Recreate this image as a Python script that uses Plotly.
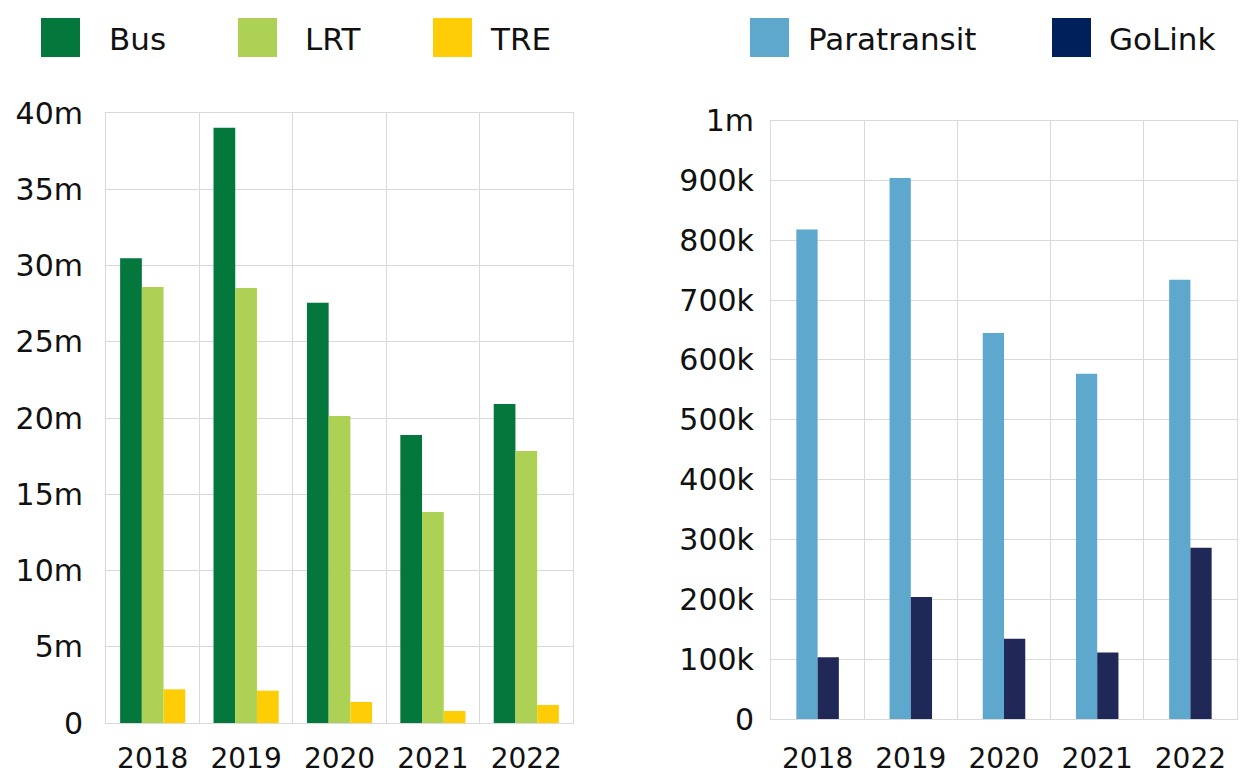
import plotly.graph_objects as go
from plotly.subplots import make_subplots

years = ["2018", "2019", "2020", "2021", "2022"]
bus = [30.47e6, 39.04e6, 27.56e6, 18.89e6, 20.92e6]
lrt = [28.59e6, 28.52e6, 20.13e6, 13.84e6, 17.84e6]
tre = [2.21e6, 2.12e6, 1.38e6, 0.79e6, 1.18e6]
paratransit = [818e3, 904e3, 645e3, 577e3, 734e3]
golink = [103e3, 204e3, 134e3, 111e3, 286e3]

left_ticks = [0, 5e6, 10e6, 15e6, 20e6, 25e6, 30e6, 35e6, 40e6]
left_labels = ["0", "5m", "10m", "15m", "20m", "25m", "30m", "35m", "40m"]
right_ticks = [0, 1e5, 2e5, 3e5, 4e5, 5e5, 6e5, 7e5, 8e5, 9e5, 1e6]
right_labels = ["0", "100k", "200k", "300k", "400k", "500k", "600k", "700k", "800k", "900k", "1m"]

C_BUS, C_LRT, C_TRE = "#03773C", "#ADD155", "#FFCD05"
C_PARA, C_GO, C_GO_LEG = "#5EA8CE", "#1F2857", "#00205B"
FONT = "DejaVu Sans"

# page offset (browser body margin)
OFF = 8
W, H = 1250, 775
ML, MR, MT, MB = 106 - OFF, 13 + OFF, 113 - OFF, 52 + OFF
PW, PH = W - ML - MR, H - MT - MB

def px_x(p):
    return (p - OFF - ML) / PW

def px_y(p):
    return (H - MB - (p - OFF)) / PH

fig = make_subplots(rows=1, cols=2)

lw = 0.2325
for vals, col, off in [(bus, C_BUS, -1.5 * lw), (lrt, C_LRT, -0.5 * lw), (tre, C_TRE, 0.5 * lw)]:
    fig.add_trace(go.Bar(x=years, y=vals, marker_color=col, marker_line_width=0,
                         width=lw, offset=off, showlegend=False), row=1, col=1)

rw = 0.228
for vals, col, off in [(paratransit, C_PARA, -rw), (golink, C_GO, 0)]:
    fig.add_trace(go.Bar(x=years, y=vals, marker_color=col, marker_line_width=0,
                         width=rw, offset=off, showlegend=False), row=1, col=2)

grid = "#D9D9D9"
common_x = dict(tickson="boundaries", showgrid=True, gridcolor=grid, gridwidth=1,
                showline=True, linecolor=grid, linewidth=1, mirror=True, automargin=False,
                ticks="", tickfont=dict(family=FONT, size=28, color="#111"),
                fixedrange=True)
common_y = dict(showgrid=True, gridcolor=grid, gridwidth=1, zeroline=False, automargin=False,
                showline=True, linecolor=grid, linewidth=1, mirror=True,
                ticks="", tickfont=dict(family=FONT, size=30, color="#111"), fixedrange=True)

fig.update_xaxes(domain=[px_x(106), px_x(573)], ticklabelstandoff=10, **common_x, row=1, col=1)
fig.update_xaxes(domain=[px_x(771), px_x(1237)], ticklabelstandoff=14, **common_x, row=1, col=2)
fig.update_yaxes(domain=[px_y(723), px_y(113)], range=[0, 40e6], tickvals=left_ticks,
                 ticktext=left_labels, ticklabelstandoff=16, **common_y, row=1, col=1)
fig.update_yaxes(domain=[px_y(719), px_y(120.5)], range=[0, 1e6], tickvals=right_ticks,
                 ticktext=right_labels, ticklabelstandoff=10, **common_y, row=1, col=2)

# Manual legend (swatches + labels)
legend_items = [
    ("Bus", C_BUS, 41, 107),
    ("LRT", C_LRT, 238, 303),
    ("TRE", C_TRE, 433, 488),
    ("Paratransit", C_PARA, 750, 806),
    ("GoLink", C_GO_LEG, 1052, 1107),
]
shapes = []
annotations = []
for name, col, sx, tx in legend_items:
    shapes.append(dict(type="rect", xref="paper", yref="paper",
                       x0=px_x(sx), x1=px_x(sx + 39), y0=px_y(57), y1=px_y(18),
                       fillcolor=col, line=dict(width=0)))
    annotations.append(dict(text=name, xref="paper", yref="paper", x=px_x(tx), y=px_y(39),
                            xanchor="left", yanchor="middle", showarrow=False,
                            font=dict(family=FONT, size=31, color="#111")))

fig.update_layout(
    width=W, height=H,
    margin=dict(l=ML, r=MR, t=MT, b=MB, autoexpand=False),
    paper_bgcolor="white", plot_bgcolor="white",
    barmode="group",
    shapes=shapes, annotations=annotations,
    font=dict(family=FONT, color="#111"),
)

fig.write_html("out.html")
